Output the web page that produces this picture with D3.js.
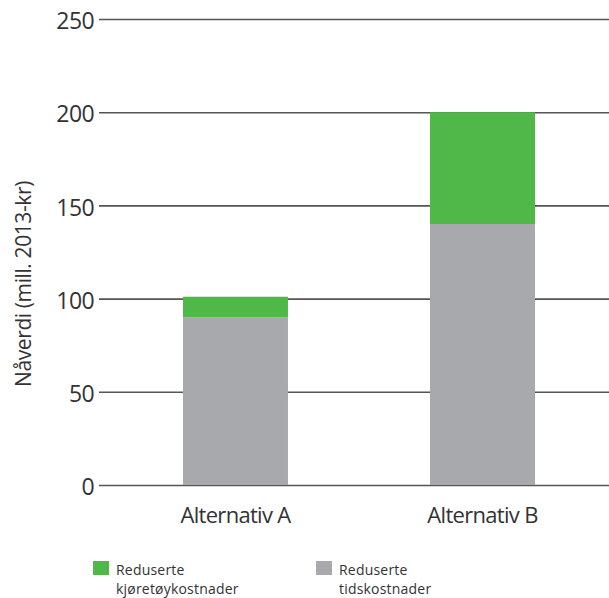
<!DOCTYPE html>
<html>
<head>
<meta charset="utf-8">
<script src="https://cdn.jsdelivr.net/npm/d3@7"></script>
<style>
  html, body { margin: 0; padding: 0; background: #fff; }
  svg { display: block; }
  text { font-family: "Open Sans", "DejaVu Sans", sans-serif; fill: #333; }
</style>
</head>
<body>
<svg id="chart" width="609" height="598"></svg>
<script>
// Present value per alternative, million 2013-NOK
const categories = ["Alternativ A", "Alternativ B"];
const timeCosts = [90, 140];      // Reduserte tidskostnader
const vehicleCosts = [11, 60];    // Reduserte kjøretøykostnader
const yTicks = [0, 50, 100, 150, 200, 250];
const seriesNames = ["Reduserte kjøretøykostnader", "Reduserte tidskostnader"];
const seriesColors = ["#50b848", "#a7a9ac"];

const svg = d3.select("#chart");

const y = d3.scaleLinear().domain([0, 250]).range([485, 19]);
const x = d3.scaleBand()
  .domain(categories)
  .range([99, 619])
  .paddingInner(0.575)
  .paddingOuter(0.34);

// horizontal grid lines with value labels
const yAxis = d3.axisLeft(y)
  .tickValues(yTicks)
  .tickSize(-510)
  .tickPadding(5)
  .tickFormat(d3.format("d"));

const gy = svg.append("g")
  .attr("transform", "translate(99,0)")
  .call(yAxis);
gy.select(".domain").remove();
gy.selectAll(".tick line")
  .attr("stroke", "#555")
  .attr("stroke-width", 1.6);
gy.selectAll(".tick text")
  .attr("x", -5)
  .attr("dy", "0.42em")
  .style("font-size", "23px")
  .style("letter-spacing", "-0.6px")
  .attr("fill", "#333");

// stacked bars: time costs at the bottom, vehicle costs on top
const rows = categories.map((c, i) => ({ cat: c, time: timeCosts[i], vehicle: vehicleCosts[i] }));
const stack = d3.stack().keys(["time", "vehicle"]);
const layers = stack(rows);
const layerColor = { time: seriesColors[1], vehicle: seriesColors[0] };

svg.append("g").selectAll("g")
  .data(layers)
  .join("g")
  .attr("fill", d => layerColor[d.key])
  .selectAll("rect")
  .data(d => d)
  .join("rect")
  .attr("x", d => x(d.data.cat))
  .attr("width", x.bandwidth())
  .attr("y", d => y(d[1]))
  .attr("height", d => y(d[0]) - y(d[1]));

// category labels
svg.append("g").selectAll("text")
  .data(categories)
  .join("text")
  .attr("x", d => x(d) + x.bandwidth() / 2)
  .attr("y", 523)
  .attr("text-anchor", "middle")
  .style("font-size", "22px")
  .style("letter-spacing", "-0.7px")
  .text(d => d);

// axis title
svg.append("text")
  .attr("transform", "translate(31,284) rotate(-90)")
  .attr("text-anchor", "middle")
  .style("font-size", "21px")
  .style("letter-spacing", "-0.4px")
  .text("Nåverdi (mill. 2013-kr)");

// legend: swatch plus a two-line label
const legendX = [93, 316];
const legend = svg.append("g").selectAll("g")
  .data(seriesNames)
  .join("g")
  .attr("transform", (d, i) => `translate(${legendX[i]},561)`);

legend.append("rect")
  .attr("width", 16)
  .attr("height", 14)
  .attr("fill", (d, i) => seriesColors[i]);

legend.selectAll("text.line")
  .data(d => {
    const k = d.indexOf(" ");
    return [d.slice(0, k), d.slice(k + 1)];
  })
  .join("text")
  .attr("class", "line")
  .attr("x", 23)
  .attr("y", (d, i) => 13.5 + i * 19.5)
  .style("font-size", "14px")
  .style("letter-spacing", "0.2px")
  .text(d => d);
</script>
</body>
</html>
